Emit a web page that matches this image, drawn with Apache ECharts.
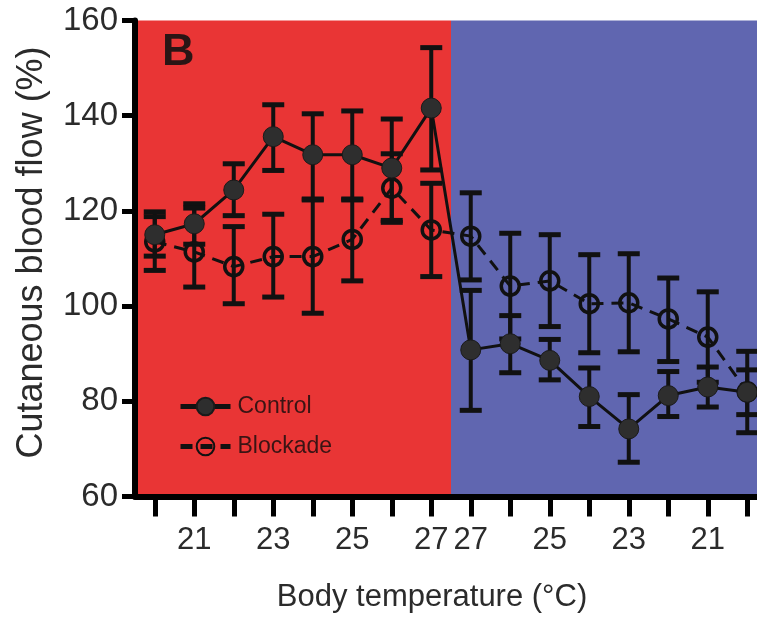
<!DOCTYPE html>
<html>
<head>
<meta charset="utf-8">
<script src="https://cdn.jsdelivr.net/npm/echarts@6/dist/echarts.min.js"></script>
<style>
html,body{margin:0;padding:0;background:#fff;}
#chart{width:757px;height:617px;}
</style>
</head>
<body>
<div id="chart"></div>
<script>
// Body temperature at each measurement step (warming 20->27, then cooling 27->20)
const temps = [20, 21, 22, 23, 24, 25, 26, 27, 27, 26, 25, 24, 23, 22, 21, 20];
const tickLabels = ['', '21', '', '23', '', '25', '', '27', '27', '', '25', '', '23', '', '21', ''];
const yTicks = [60, 80, 100, 120, 140, 160];

// Control (filled circles): mean, lower error, upper error
const controlMean = [115, 117.3, 124.4, 135.6, 131.8, 131.8, 129, 141.6, 90.8, 92.1, 88.6, 81, 74.2, 81.2, 83, 81.9];
const controlLow  = [110.5, 113, 119, 128.5, 122.5, 122.3, 118, 128.6, 78.1, 86, 84.5, 74.7, 67.2, 76.8, 78.8, 77.2];
const controlHigh = [119.8, 121.5, 129.9, 142.3, 140.4, 141, 139.3, 154.3, 103.3, 98, 93, 87, 81.4, 86.25, 87.2, 86.6];

// Blockade (open circles): mean, lower error, upper error
const blockMean = [113.5, 111.4, 108.3, 110.4, 110.4, 114, 124.8, 116, 114.7, 104.2, 105.3, 100.5, 100.7, 97.3, 93.5, 82];
const blockLow  = [107.5, 104, 100.5, 101.9, 98.5, 105.3, 117.6, 106.2, 105.5, 93.1, 95.7, 90.2, 90.4, 88.35, 84, 73.4];
const blockHigh = [118.8, 120.6, 116.7, 119.3, 122.3, 122.5, 132, 125.8, 123.8, 115.3, 115, 110.8, 111, 105.9, 103, 90.5];

// Phase bands: warming (red) and cooling (blue), as category index ranges
const phaseStart = [0, 8];
const phaseEnd = [7, 15];
const phaseColors = ['#e93535', '#6066b0'];

const FONT = "'Liberation Sans', Arial, Helvetica, sans-serif";

const chart = echarts.init(document.getElementById('chart'));

const idx = temps.map((_, i) => String(i));
const bandData = phaseStart.map((s, i) => [s, phaseEnd[i], 60, 160, i]);
const ctrlErr = controlMean.map((_, i) => [i, controlLow[i], controlHigh[i]]);
const blkErr = blockMean.map((_, i) => [i, blockLow[i], blockHigh[i]]);

function errRender(params, api) {
  const x = api.value(0), lo = api.value(1), hi = api.value(2);
  const a = api.coord([x, lo]), b = api.coord([x, hi]);
  const hw = 11;
  const st = {stroke: '#111', lineWidth: 4};
  const cap = {stroke: '#111', lineWidth: 5};
  return {type: 'group', children: [
    {type: 'line', shape: {x1: a[0], y1: a[1], x2: b[0], y2: b[1]}, style: st},
    {type: 'line', shape: {x1: a[0] - hw, y1: a[1], x2: a[0] + hw, y2: a[1]}, style: cap},
    {type: 'line', shape: {x1: b[0] - hw, y1: b[1], x2: b[0] + hw, y2: b[1]}, style: cap}
  ]};
}

chart.setOption({
  animation: false,
  grid: {left: 135, top: 20.5, width: 632, height: 476, outerBoundsMode: 'none', containLabel: false},
  legend: {
    orient: 'vertical', left: 173, top: 390, itemWidth: 50, itemHeight: 22, itemGap: 17,
    data: ['Control', 'Blockade'],
    textStyle: {fontFamily: FONT, fontSize: 23, color: '#3a1414', padding: [0, 0, 0, 2]},
    lineStyle: {width: 5}
  },
  graphic: [{
    type: 'text', left: 162, top: 30, z: 10,
    style: {text: 'B', fontFamily: FONT, fontWeight: 'bold', fontSize: 45, fill: '#2a1515'}
  }],
  xAxis: {
    type: 'category', data: idx, boundaryGap: true,
    name: 'Body temperature (°C)', nameLocation: 'middle', nameGap: 85,
    nameTextStyle: {fontFamily: FONT, fontSize: 31, color: '#2b2b2b', padding: [0, 38, 0, 0]},
    axisLine: {show: true, lineStyle: {color: '#000', width: 6}},
    axisTick: {show: true, alignWithLabel: true, interval: 0, length: 20, lineStyle: {color: '#000', width: 5}},
    axisLabel: {
      interval: (i) => tickLabels[i] !== '', margin: 28,
      formatter: (v, i) => tickLabels[i],
      fontFamily: FONT, fontSize: 31, color: '#2b2b2b'
    },
    splitLine: {show: false}
  },
  yAxis: {
    type: 'value', min: 60, max: 160, interval: 20,
    name: 'Cutaneous blood flow (%)', nameLocation: 'middle', nameGap: 85,
    nameTextStyle: {fontFamily: FONT, fontSize: 36, color: '#2b2b2b', padding: [0, 0, 0, 12]},
    axisLine: {show: true, lineStyle: {color: '#000', width: 6}},
    axisTick: {show: true, length: 13, lineStyle: {color: '#000', width: 5}},
    axisLabel: {margin: 17, fontFamily: FONT, fontSize: 33, color: '#2b2b2b',
      formatter: (v) => yTicks.indexOf(v) >= 0 ? String(v) : ''},
    splitLine: {show: false}
  },
  series: [
    {
      type: 'custom', name: 'bands', silent: true, clip: false, z: 0,
      data: bandData, encode: {x: [0, 1], y: [2, 3]},
      renderItem: (params, api) => {
        const s = api.value(0), e = api.value(1);
        const p1 = api.coord([s, api.value(3)]), p2 = api.coord([e, api.value(2)]);
        const bw = api.size([1, 0])[0];
        return {type: 'rect', shape: {x: p1[0] - bw / 2, y: p1[1], width: p2[0] - p1[0] + bw, height: p2[1] - p1[1]},
          style: {fill: phaseColors[api.value(4)]}};
      }
    },
    {type: 'custom', name: 'ctrlErr', silent: true, z: 2, data: ctrlErr, encode: {x: 0, y: [1, 2]}, renderItem: errRender},
    {type: 'custom', name: 'blkErr', silent: true, z: 2, data: blkErr, encode: {x: 0, y: [1, 2]}, renderItem: errRender},
    {
      type: 'line', name: 'Blockade', data: blockMean, z: 3,
      symbol: 'circle', symbolSize: 18,
      lineStyle: {color: '#111', width: 3, type: [12, 8]},
      itemStyle: {color: 'rgba(0,0,0,0)', borderColor: '#111', borderWidth: 3.5}
    },
    {
      type: 'line', name: 'Control', data: controlMean, z: 4,
      symbol: 'circle', symbolSize: 20,
      lineStyle: {color: '#111', width: 3},
      itemStyle: {color: '#2e2e2e', borderColor: '#1a1a1a', borderWidth: 1}
    }
  ]
});
</script>
</body>
</html>
